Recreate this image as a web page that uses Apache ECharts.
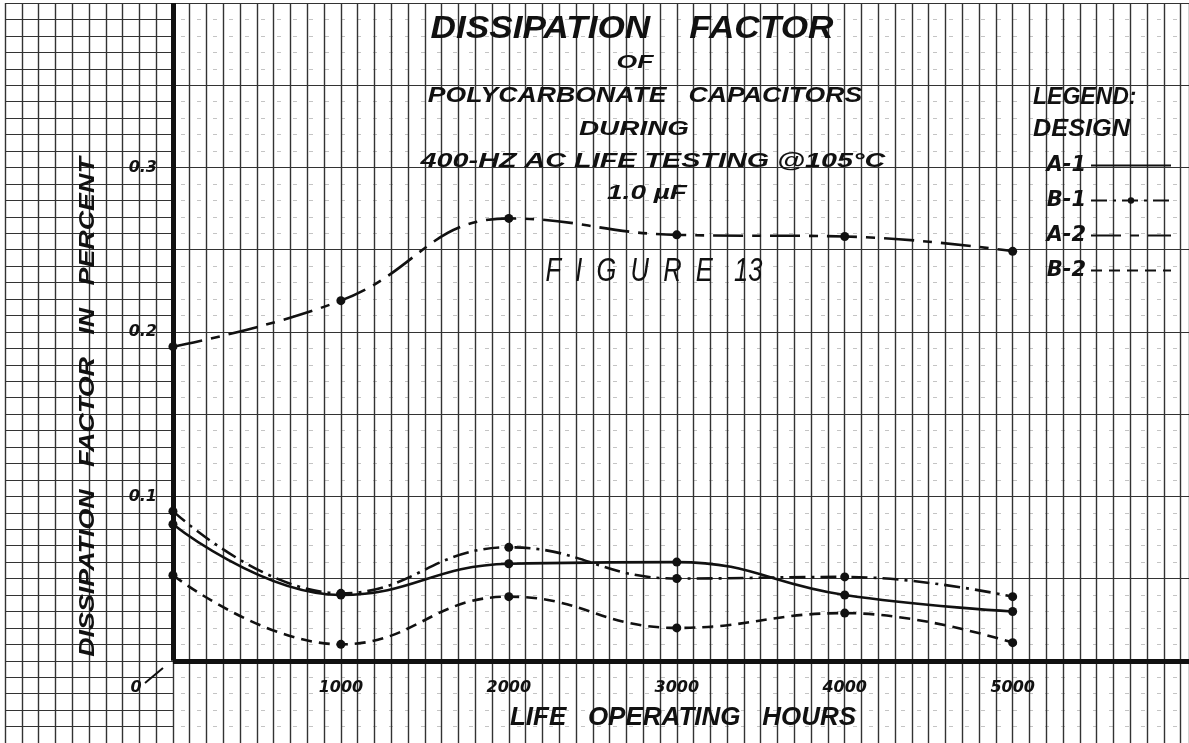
<!DOCTYPE html>
<html>
<head>
<meta charset="utf-8">
<title>Dissipation Factor of Polycarbonate Capacitors</title>
<script src="https://cdn.jsdelivr.net/npm/echarts@6/dist/echarts.min.js"></script>
<style>
  html, body { margin: 0; padding: 0; background: #fff; }
  #chart { width: 1189px; height: 743px; }
</style>
</head>
<body>
<div id="chart"></div>
<script>
// life operating hours of each reading
const hours = [0, 1000, 2000, 3000, 4000, 5000]

// dissipation factor in percent, one array per design
const a1 = [0.083, 0.040, 0.059, 0.060, 0.040, 0.030]
const b1 = [0.091, 0.041, 0.069, 0.050, 0.051, 0.039]
const a2 = [0.191, 0.219, 0.269, 0.259, 0.258, 0.249]
const b2 = [0.052, 0.010, 0.039, 0.020, 0.029, 0.011]

const xTickLabels = [1000, 2000, 3000, 4000, 5000]
const yTickLabels = [0.1, 0.2, 0.3]

const FONT = '"Liberation Sans", Arial, sans-serif'
const WIDE = '"DejaVu Sans", "Liberation Sans", sans-serif'
const ink = '#111'

const chart = echarts.init(document.getElementById('chart'))

const pairs = (ys) => hours.map((h, i) => [h, ys[i]])

const text = (str, x, y, size, extra = {}) => ({
  type: 'text',
  x, y,
  rotation: extra.rotation || 0,
  scaleX: extra.sx || 1,
  z: 10,
  style: {
    text: str,
    fill: ink,
    font: `${extra.weight || 'bold'} ${extra.style || 'italic'} ${size}px ${extra.family || FONT}`,
    align: extra.align || 'center',
    verticalAlign: 'middle'
  }
})

const lineSeries = (name, ys, dash, extra = {}) => ({
  name,
  type: 'line',
  data: pairs(ys),
  smooth: 0.45,
  symbol: 'circle',
  symbolSize: 9,
  itemStyle: { color: ink },
  lineStyle: { color: ink, width: 2.6, type: dash },
  z: 5,
  ...extra
})

const tickFont = {
  color: ink,
  fontFamily: WIDE,
  fontWeight: 'bold',
  fontStyle: 'italic',
  fontSize: 16
}

const option = {
  animation: false,
  backgroundColor: '#fff',
  grid: [
    // whole sheet of graph paper, also holds the curves
    { left: 5, right: 0, top: 3, bottom: 0, outerBoundsMode: 'none' },
    // left of the y axis the paper has solid horizontal rules
    { left: 5, width: 168, top: 3, bottom: 0, outerBoundsMode: 'none' },
    // first quadrant only, carries the tick labels along the drawn axes
    { left: 173, right: 0, top: 3, bottom: 82, outerBoundsMode: 'none' }
  ],
  xAxis: [
    {
      type: 'value',
      min: -1000,
      max: 6050,
      interval: 100,
      axisLine: { show: false },
      axisTick: { show: false },
      axisLabel: { show: false },
      splitLine: { show: true, lineStyle: { color: '#333', width: 1.4 } }
    },
    { type: 'value', gridIndex: 1, min: 0, max: 1, show: false },
    {
      type: 'value',
      gridIndex: 2,
      min: 0,
      max: 6050,
      interval: 1000,
      axisLine: { show: false, onZero: false },
      axisTick: { show: false },
      splitLine: { show: false },
      axisLabel: {
        customValues: xTickLabels,
        margin: 19,
        formatter: (v) => String(v),
        ...tickFont
      }
    }
  ],
  yAxis: [
    {
      type: 'value',
      min: -0.05,
      max: 0.4,
      interval: 0.05,
      axisLine: { show: false },
      axisTick: { show: false },
      axisLabel: { show: false },
      splitLine: { show: true, lineStyle: { color: '#333', width: 1 } },
      minorTick: { show: false, splitNumber: 5 },
      minorSplitLine: { show: true, lineStyle: { color: '#c4c4c4', width: 1, type: [4, 12] } }
    },
    {
      type: 'value',
      gridIndex: 1,
      min: -0.05,
      max: 0.4,
      interval: 0.01,
      axisLine: { show: false },
      axisTick: { show: false },
      axisLabel: { show: false },
      splitLine: { show: true, lineStyle: { color: '#333', width: 1.2 } }
    },
    {
      type: 'value',
      gridIndex: 2,
      min: 0,
      max: 0.4,
      interval: 0.1,
      axisLine: { show: false, onZero: false },
      axisTick: { show: false },
      splitLine: { show: false },
      axisLabel: {
        customValues: yTickLabels,
        margin: 16,
        formatter: (v) => v.toFixed(1),
        ...tickFont
      }
    }
  ],
  legend: {
    orient: 'vertical',
    left: 1026,
    top: 149,
    align: 'right',
    itemGap: 12,
    itemWidth: 80,
    itemHeight: 8,
    textStyle: {
      color: ink,
      fontFamily: WIDE,
      fontWeight: 'bold',
      fontStyle: 'italic',
      fontSize: 21,
      lineHeight: 23,
      width: 55
    },
    data: [
      { name: 'A-1', itemStyle: { opacity: 0 } },
      { name: 'B-1' },
      { name: 'A-2', itemStyle: { opacity: 0 } },
      { name: 'B-2', itemStyle: { opacity: 0 } }
    ]
  },
  series: [
    lineSeries('A-1', a1, 'solid', {
      // heavy drawn axes, through the scales
      markLine: {
        silent: true,
        symbol: 'none',
        label: { show: false },
        lineStyle: { color: ink, width: 5, type: 'solid' },
        data: [
          [{ coord: [0, 0] }, { coord: [6050, 0] }],
          [{ coord: [0, 0] }, { coord: [0, 0.4] }]
        ]
      }
    }),
    lineSeries('B-1', b1, [16, 6, 3, 6]),
    lineSeries('A-2', a2, [30, 9, 9, 9]),
    lineSeries('B-2', b2, [11, 7])
  ],
  graphic: [
    text('DISSIPATION    FACTOR', 632, 29, 32, { sx: 1.1 }),
    text('OF', 635, 63, 19, { sx: 1.4 }),
    text('POLYCARBONATE   CAPACITORS', 645, 96, 22, { sx: 1.21 }),
    text('DURING', 634, 129, 21, { sx: 1.33 }),
    text('400-HZ AC LIFE TESTING @105°C', 653, 161, 21, { sx: 1.37 }),
    text('1.0 µF', 647, 193, 20, { sx: 1.4 }),
    text('F  I  G  U  R  E   13', 654, 272, 34, { weight: 'normal', sx: 0.75 }),
    text('LEGEND:', 1033, 98, 23, { align: 'left' }),
    text('DESIGN', 1033, 130, 23, { align: 'left', sx: 1.1 }),
    text('DISSIPATION   FACTOR   IN   PERCENT', 88, 407, 22, { rotation: Math.PI / 2, sx: 1.22 }),
    text('LIFE   OPERATING   HOURS', 683, 718, 26),
    text('0', 136, 688, 16, { family: WIDE }),
    {
      type: 'line',
      z: 10,
      shape: { x1: 145, y1: 683, x2: 163, y2: 668 },
      style: { stroke: ink, lineWidth: 2 }
    }
  ]
}

chart.setOption(option)
window.addEventListener('resize', () => chart.resize())
</script>
</body>
</html>
